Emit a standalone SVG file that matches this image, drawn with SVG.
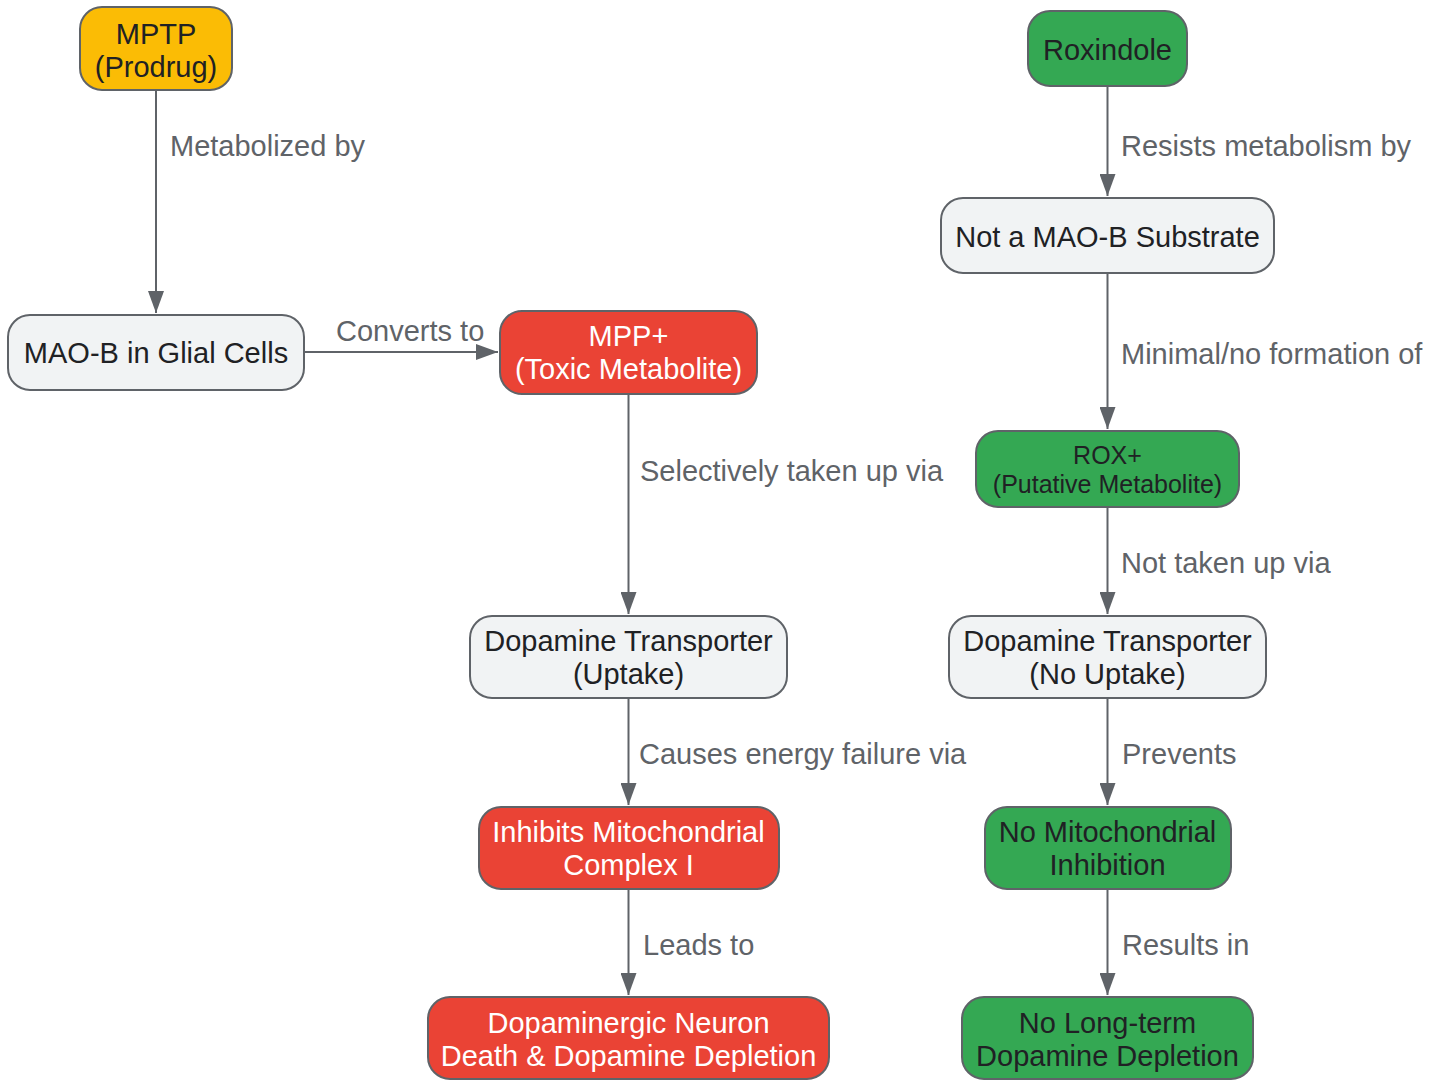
<svg xmlns="http://www.w3.org/2000/svg" width="1445" height="1080" viewBox="0 0 1445 1080">
<defs>
<marker id="arr" markerWidth="22" markerHeight="16" refX="22" refY="8" orient="auto" markerUnits="userSpaceOnUse" viewBox="0 0 22 16">
<path d="M0,0 L22,8 L0,16 Z" fill="#5F6368"/>
</marker>
<style>
.n rect{stroke:#5F6368;stroke-width:2}
.y rect{fill:#FBBC05}
.r rect{fill:#EA4335}
.g rect{fill:#34A853}
.w rect{fill:#F1F3F4}
.n text{font-family:"Liberation Sans",Arial,sans-serif;font-size:29px;text-anchor:middle;fill:#202124}
.r text{fill:#FFFFFF}
.e line{stroke:#5F6368;stroke-width:2;fill:none}
.e text{font-family:"Liberation Sans",Arial,sans-serif;font-size:29px;fill:#5F6368}
</style>
</defs>
<rect width="1445" height="1080" fill="#FFFFFF"/>
<g id="connectors" class="e">
<line x1="156" y1="90" x2="156" y2="313" marker-end="url(#arr)"/>
<text x="170" y="156">Metabolized by</text>
<line x1="304" y1="352" x2="498" y2="352" marker-end="url(#arr)"/>
<text x="336" y="341">Converts to</text>
<line x1="628.5" y1="394" x2="628.5" y2="614" marker-end="url(#arr)"/>
<text x="640" y="481">Selectively taken up via</text>
<line x1="628.5" y1="698" x2="628.5" y2="805" marker-end="url(#arr)"/>
<text x="639" y="764">Causes energy failure via</text>
<line x1="628.5" y1="889" x2="628.5" y2="995" marker-end="url(#arr)"/>
<text x="643" y="955">Leads to</text>
<line x1="1107.5" y1="86" x2="1107.5" y2="196" marker-end="url(#arr)"/>
<text x="1121" y="156">Resists metabolism by</text>
<line x1="1107.5" y1="273" x2="1107.5" y2="429" marker-end="url(#arr)"/>
<text x="1121" y="364">Minimal/no formation of</text>
<line x1="1107.5" y1="507" x2="1107.5" y2="614" marker-end="url(#arr)"/>
<text x="1121" y="573">Not taken up via</text>
<line x1="1107.5" y1="698" x2="1107.5" y2="805" marker-end="url(#arr)"/>
<text x="1122" y="764">Prevents</text>
<line x1="1107.5" y1="889" x2="1107.5" y2="995" marker-end="url(#arr)"/>
<text x="1122" y="955">Results in</text>
</g>
<g id="mptp" class="n y"><rect x="80" y="7" width="152" height="83" rx="22"/><text x="156" y="44">MPTP</text><text x="156" y="77">(Prodrug)</text></g>
<g id="maob" class="n w"><rect x="8" y="315" width="296" height="75" rx="22"/><text x="156" y="363">MAO-B in Glial Cells</text></g>
<g id="mpp" class="n r"><rect x="500" y="311" width="257" height="83" rx="22"/><text x="628.5" y="346">MPP+</text><text x="628.5" y="379">(Toxic Metabolite)</text></g>
<g id="dat-uptake" class="n w"><rect x="470" y="616" width="317" height="82" rx="22"/><text x="628.5" y="651">Dopamine Transporter</text><text x="628.5" y="684">(Uptake)</text></g>
<g id="inhibits" class="n r"><rect x="479" y="807" width="300" height="82" rx="22"/><text x="628.5" y="842">Inhibits Mitochondrial</text><text x="628.5" y="875">Complex I</text></g>
<g id="death" class="n r"><rect x="428" y="997" width="401" height="82" rx="22"/><text x="628.5" y="1033">Dopaminergic Neuron</text><text x="628.5" y="1066">Death &amp; Dopamine Depletion</text></g>
<g id="roxindole" class="n g"><rect x="1028" y="11" width="159" height="75" rx="22"/><text x="1107.5" y="60">Roxindole</text></g>
<g id="notsub" class="n w"><rect x="941" y="198" width="333" height="75" rx="22"/><text x="1107.5" y="247">Not a MAO-B Substrate</text></g>
<g id="rox" class="n g"><rect x="976" y="431" width="263" height="76" rx="22"/><text x="1107.5" y="464" style="font-size:25px">ROX+</text><text x="1107.5" y="493" style="font-size:25px">(Putative Metabolite)</text></g>
<g id="dat-no" class="n w"><rect x="949" y="616" width="317" height="82" rx="22"/><text x="1107.5" y="651">Dopamine Transporter</text><text x="1107.5" y="684">(No Uptake)</text></g>
<g id="nomito" class="n g"><rect x="985" y="807" width="246" height="82" rx="22"/><text x="1107.5" y="842">No Mitochondrial</text><text x="1107.5" y="875">Inhibition</text></g>
<g id="nolong" class="n g"><rect x="962" y="997" width="291" height="82" rx="22"/><text x="1107.5" y="1033">No Long-term</text><text x="1107.5" y="1066">Dopamine Depletion</text></g>
</svg>
